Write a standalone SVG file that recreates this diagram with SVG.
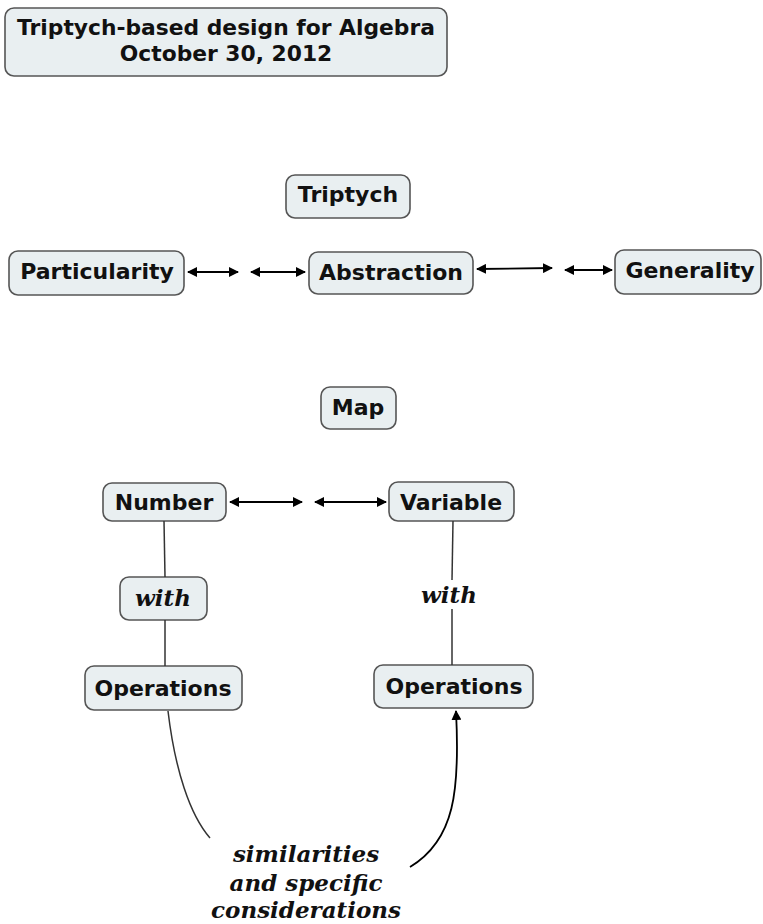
<svg xmlns="http://www.w3.org/2000/svg" width="763" height="924" viewBox="0 0 763 924">
<style>
.box{fill:#e9eff1;stroke:#555;stroke-width:1.6}
.t{font-family:"DejaVu Sans",Verdana,sans-serif;font-weight:bold;font-size:22px;fill:#111;text-anchor:middle}
.tt{font-family:"DejaVu Sans",Verdana,sans-serif;font-weight:bold;font-size:21.8px;fill:#111;text-anchor:middle}
.it{font-family:"DejaVu Serif",serif;font-style:italic;font-weight:bold;font-size:23px;fill:#111;text-anchor:middle}
.ln{stroke:#333;stroke-width:1.5;fill:none}
.ar{stroke:#000;stroke-width:1.8;fill:none}
</style>
<defs>
<marker id="ah" viewBox="0 0 10 10" refX="9" refY="5" markerWidth="10" markerHeight="10" markerUnits="userSpaceOnUse" orient="auto-start-reverse">
<path d="M0,0 L10,5 L0,10 Z" fill="#000"/>
</marker>
</defs>
<g id="title">
<rect class="box" x="5" y="8" width="442" height="68" rx="9"/>
<text class="tt" x="226" y="35">Triptych-based design for Algebra</text>
<text class="tt" x="226" y="61">October 30, 2012</text>
</g>
<g id="triptych">
<rect class="box" x="286" y="175" width="124" height="43" rx="9"/>
<text class="t" x="348" y="202">Triptych</text>
</g>
<g id="particularity">
<rect class="box" x="9" y="251" width="175" height="44" rx="9"/>
<text class="t" x="97" y="279">Particularity</text>
</g>
<g id="abstraction">
<rect class="box" x="309" y="252" width="164" height="42" rx="9"/>
<text class="t" x="391" y="280">Abstraction</text>
</g>
<g id="generality">
<rect class="box" x="615" y="250" width="146" height="44" rx="9"/>
<text class="t" x="690" y="278">Generality</text>
</g>
<g id="map">
<rect class="box" x="321" y="387" width="75" height="42" rx="9"/>
<text class="t" x="358" y="415">Map</text>
</g>
<g id="number">
<rect class="box" x="103" y="483" width="123" height="38" rx="9"/>
<text class="t" x="164" y="510">Number</text>
</g>
<g id="variable">
<rect class="box" x="389" y="482" width="125" height="39" rx="9"/>
<text class="t" x="451" y="510">Variable</text>
</g>
<g id="with1">
<rect class="box" x="120" y="577" width="87" height="43" rx="9"/>
<text class="it" x="163" y="606">with</text>
</g>
<g id="with2">
<text class="it" x="449" y="603">with</text>
</g>
<g id="operations1">
<rect class="box" x="85" y="666" width="157" height="44" rx="9"/>
<text class="t" x="163" y="696">Operations</text>
</g>
<g id="operations2">
<rect class="box" x="374" y="665" width="159" height="43" rx="9"/>
<text class="t" x="454" y="694">Operations</text>
</g>
<g id="similarities">
<text class="it" x="306" y="862">similarities</text>
<text class="it" x="306" y="891">and specific</text>
<text class="it" x="306" y="918">considerations</text>
</g>
<g id="connectors">
<line class="ar" x1="188" y1="272" x2="238" y2="272" marker-start="url(#ah)" marker-end="url(#ah)"/>
<line class="ar" x1="251" y1="272" x2="305" y2="272" marker-start="url(#ah)" marker-end="url(#ah)"/>
<line class="ar" x1="477" y1="269" x2="552" y2="268" marker-start="url(#ah)" marker-end="url(#ah)"/>
<line class="ar" x1="565" y1="270" x2="612" y2="270" marker-start="url(#ah)" marker-end="url(#ah)"/>
<line class="ar" x1="230" y1="502" x2="302" y2="502" marker-start="url(#ah)" marker-end="url(#ah)"/>
<line class="ar" x1="315" y1="502" x2="386" y2="502" marker-start="url(#ah)" marker-end="url(#ah)"/>
<line class="ln" x1="164" y1="521" x2="165" y2="577"/>
<line class="ln" x1="165" y1="620" x2="165" y2="666"/>
<line class="ln" x1="453" y1="521" x2="452" y2="580"/>
<line class="ln" x1="452" y1="609" x2="452" y2="665"/>
<path class="ln" d="M168,711 C175,770 190,815 210,838"/>
<path class="ar" d="M410,867 C455,840 460,790 456,711" marker-end="url(#ah)"/>
</g>
</svg>
